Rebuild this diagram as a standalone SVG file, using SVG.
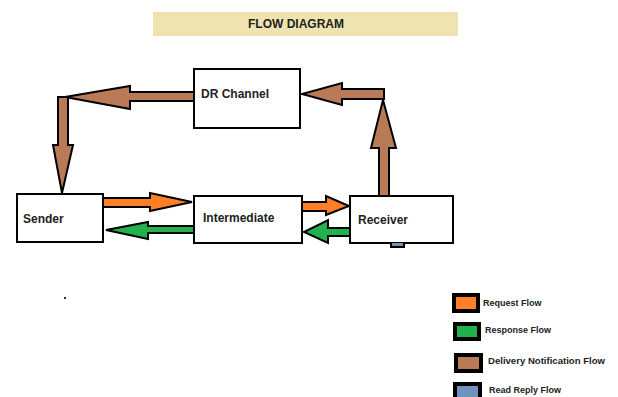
<svg xmlns="http://www.w3.org/2000/svg" width="618" height="397" viewBox="0 0 618 397">
<style>
text{font-family:"Liberation Sans",Arial,sans-serif;font-weight:bold;fill:#222}
.box{fill:#fff;stroke:#000;stroke-width:2}
.arr{stroke:#000;stroke-width:2;stroke-linejoin:miter}
.req{fill:#FF7F27}
.res{fill:#22B14C}
.dn{fill:#B97A57}
.rr{fill:#7092BE}
.sw{stroke:#000;stroke-width:4}
.node{font-size:12px}
.lg{font-size:9px}
</style>
<rect x="153" y="12" width="305" height="24" fill="#EFE4B0"/>
<text x="296" y="28" font-size="12.5" text-anchor="middle" textLength="96" lengthAdjust="spacingAndGlyphs">FLOW DIAGRAM</text>
<g id="connectors">
<polygon class="arr dn" points="194,92 130,92 130,86 65,97 130,109 130,101 194,101"/>
<polygon class="arr dn" points="58,97 68,97 68,145 73,145 62,193 53,145 58,145"/>
<polygon class="arr dn" points="379,196 379,148 371,148 383,100 396,148 389,148 389,196"/>
<polygon class="arr dn" points="384,89 342,89 342,83 302,94 342,105 342,99 384,99"/>
<polygon class="arr req" points="103,198 150,198 150,193 192,202 150,211 150,207 103,207"/>
<polygon class="arr req" points="302,202 326,202 326,196 349,206 326,215 326,211 302,211"/>
<polygon class="arr res" points="194,226 148,226 148,222 106,230 148,239 148,233 194,233"/>
<polygon class="arr res" points="350,228 328,228 328,220 304,232 328,243 328,236 350,236"/>
</g>
<g id="dr-channel">
<rect class="box" x="194" y="69" width="106" height="59"/>
<text class="node" x="201" y="98">DR Channel</text>
</g>
<g id="sender">
<rect class="box" x="17" y="194" width="86" height="48"/>
<text class="node" x="23" y="223">Sender</text>
</g>
<g id="intermediate">
<rect class="box" x="194" y="196" width="108" height="47"/>
<text class="node" x="203" y="222">Intermediate</text>
</g>
<g id="receiver">
<rect class="box" x="350" y="196" width="103" height="47"/>
<text class="node" x="358" y="224">Receiver</text>
</g>
<path d="M391 243 V247 H404 V243" fill="#7092BE" stroke="#000" stroke-width="2"/>
<rect x="64" y="297" width="2" height="2" fill="#333"/>
<g id="legend">
<rect class="sw req" x="454" y="295" width="24" height="16"/>
<text class="lg" x="483" y="306">Request Flow</text>
<rect class="sw res" x="455" y="324" width="24" height="15"/>
<text class="lg" x="485" y="333">Response Flow</text>
<rect class="sw dn" x="456" y="355" width="25" height="16"/>
<text class="lg" x="488" y="364" textLength="117" lengthAdjust="spacingAndGlyphs">Delivery Notification Flow</text>
<rect class="sw rr" x="455" y="384" width="25" height="17"/>
<text class="lg" x="489" y="393">Read Reply Flow</text>
</g>
</svg>
